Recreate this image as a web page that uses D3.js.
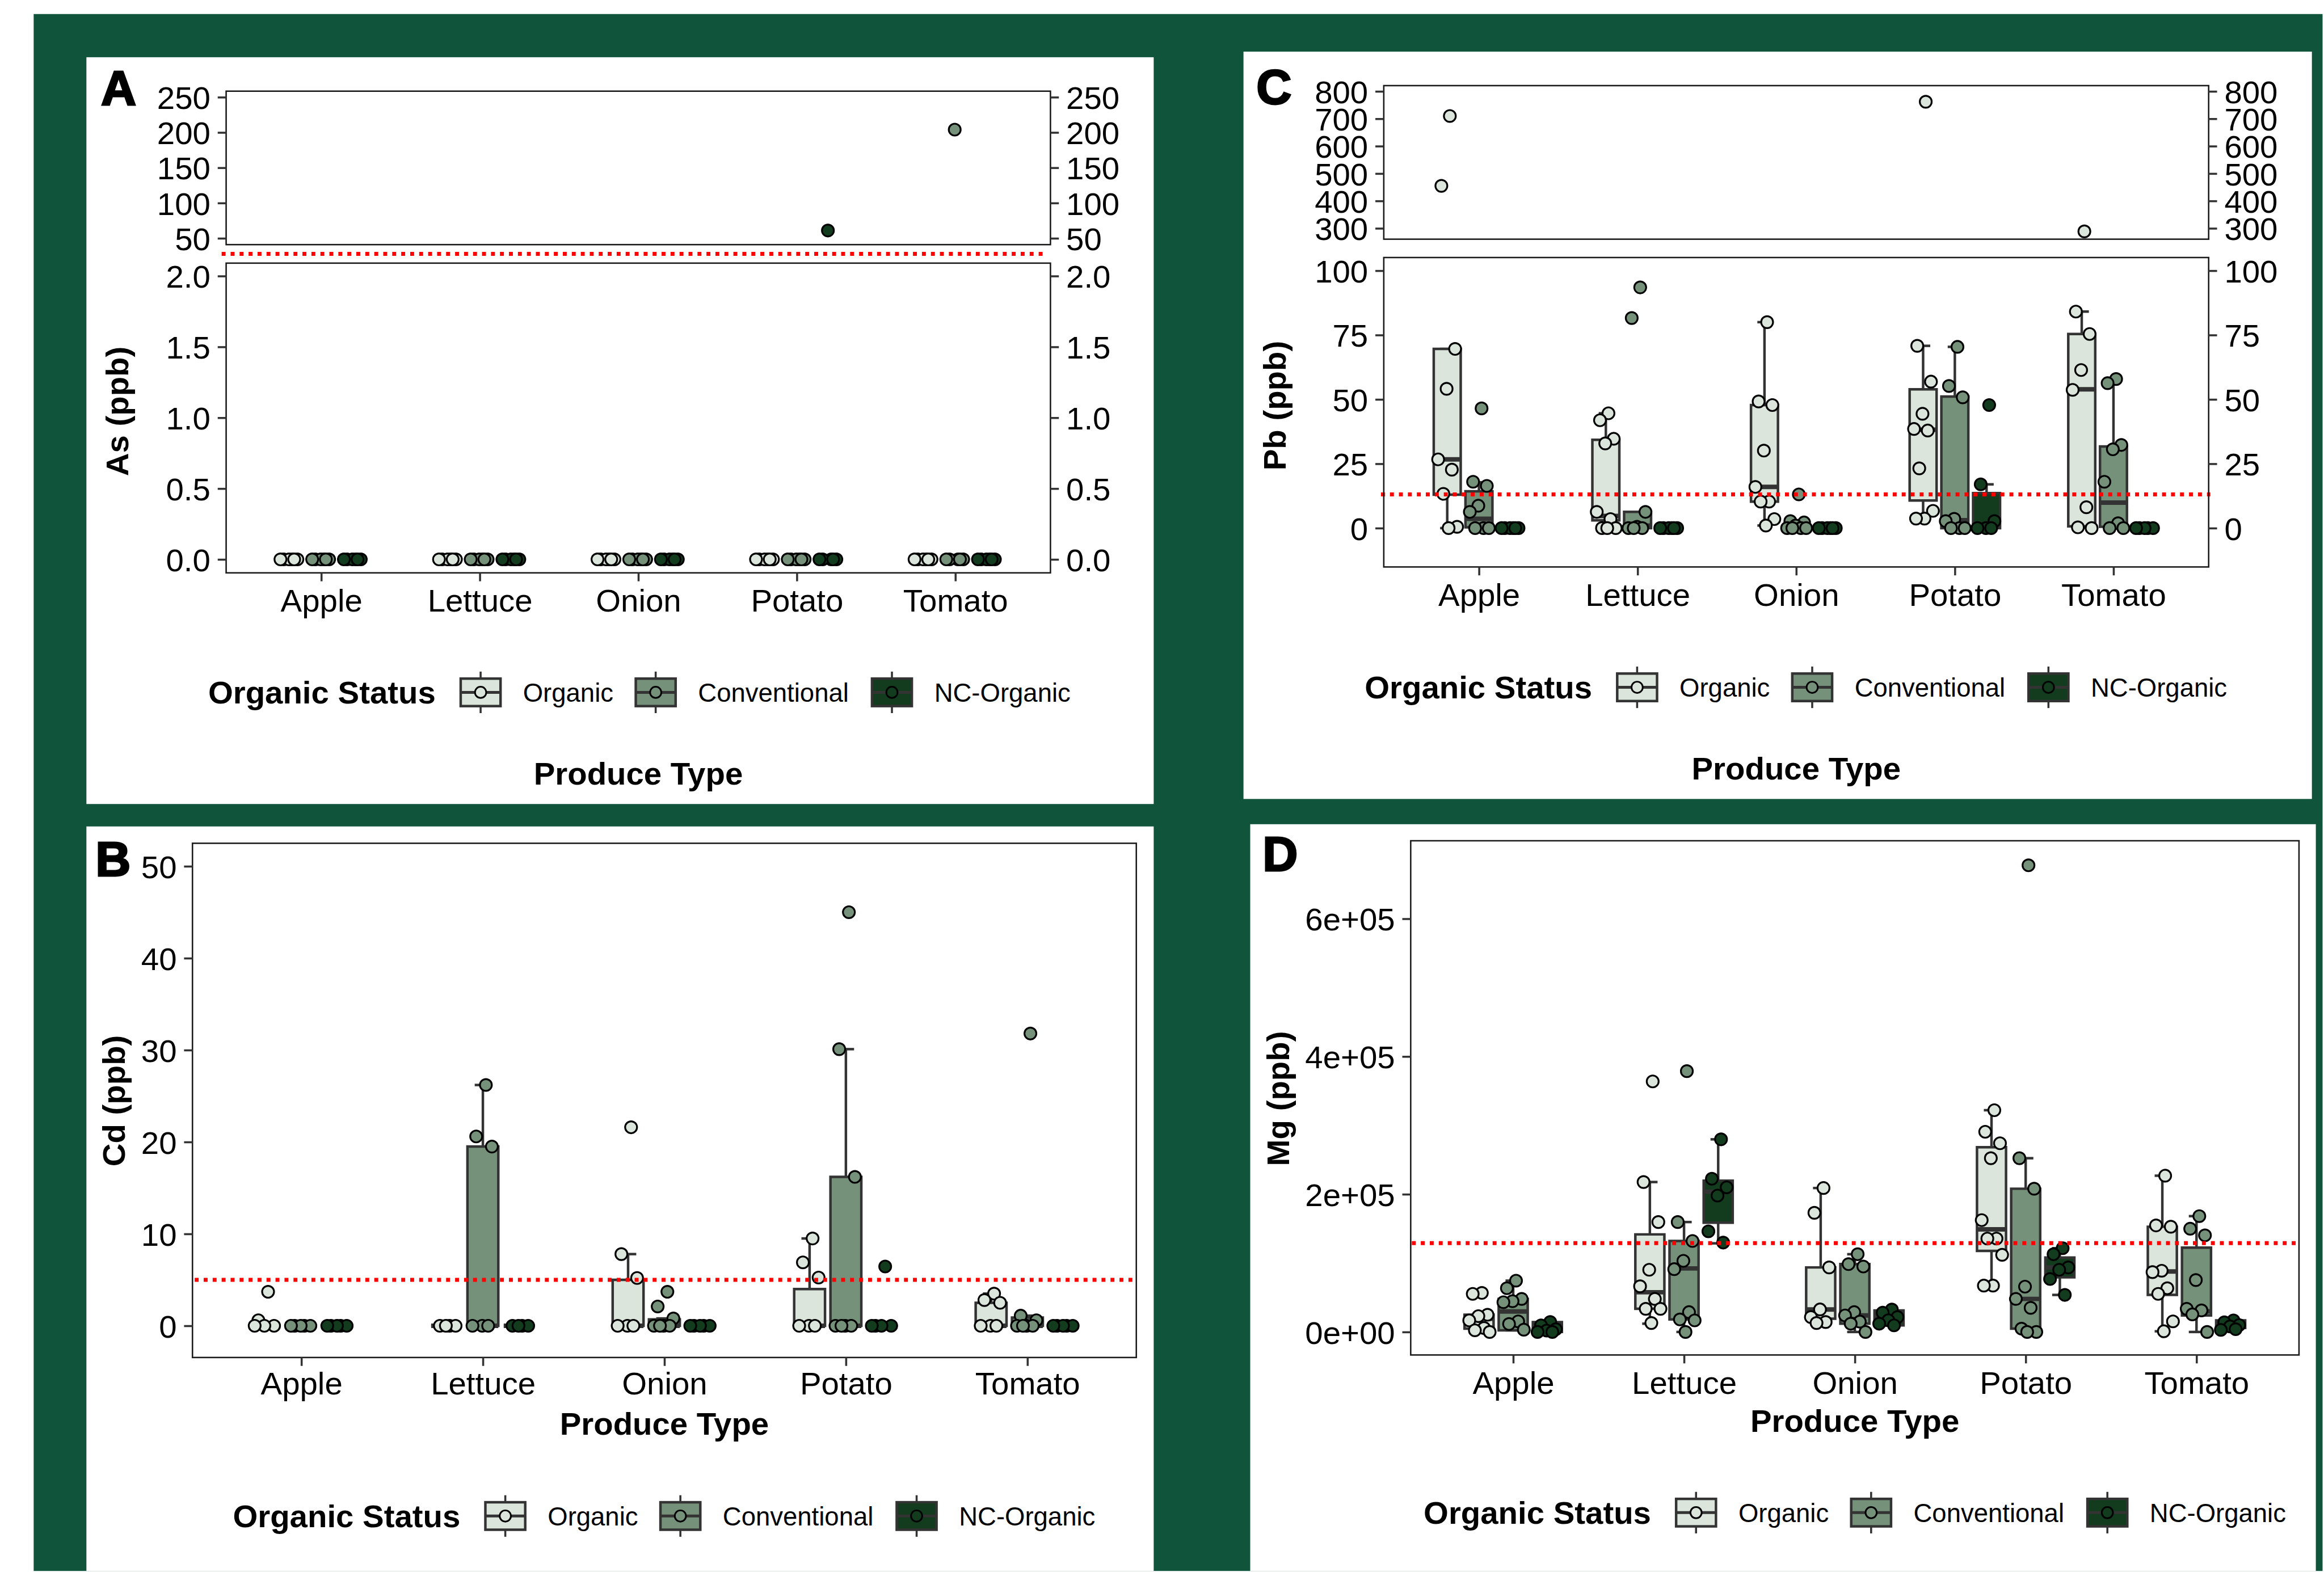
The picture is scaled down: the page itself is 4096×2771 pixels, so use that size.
<!DOCTYPE html>
<html><head><meta charset="utf-8">
<script src="https://cdn.jsdelivr.net/npm/d3@7"></script>
<style>html,body{margin:0;padding:0;background:#fff}svg{display:block}</style>
</head><body>
<script>
// ---------------- DATA ----------------
const categories = ["Apple", "Lettuce", "Onion", "Potato", "Tomato"];
const groups = ["Organic", "Conventional", "NC-Organic"];
const groupColors = ["#DBE5DB", "#76917A", "#133B1D"];

// Panel A: As (ppb) — box stats [lo, q1, median, q3, hi], rows = category x group
const asStats = [
  [0,0,0,0,0],[0,0,0,0,0],[0,0,0,0,0],
  [0,0,0,0,0],[0,0,0,0,0],[0,0,0,0,0],
  [0,0,0,0,0],[0,0,0,0,0],[0,0,0,0,0],
  [0,0,0,0,0],[0,0,0,0,0],[0,0,0,0,0],
  [0,0,0,0,0],[0,0,0,0,0],[0,0,0,0,0]
];
const asPoints = [
  [0,0,0,0,0,0],[0,0,0,0,0,0],[0,0,0,0,0,0],
  [0,0,0,0,0,0],[0,0,0,0,0,0],[0,0,0,0,0,0],
  [0,0,0,0,0,0],[0,0,0,0,0,0],[0,0,0,0,0,0],
  [0,0,0,0,0,0],[0,0,0,0,0,0],[0,0,0,61,0,0],
  [0,0,0,0,0,0],[0,0,0,204,0,0],[0,0,0,0,0,0]
];
const asTicksUpper = [50, 100, 150, 200, 250];
const asTickLabelsUpper = ["50", "100", "150", "200", "250"];
const asTicksLower = [0, 0.5, 1, 1.5, 2];
const asTickLabelsLower = ["0.0", "0.5", "1.0", "1.5", "2.0"];

// Panel B: Cd (ppb)
const cdStats = [
  [0,0,0,0,0],[0,0,0,0,0],[0,0,0,0,0],
  [0,0,0,0,0],[0,0,0,19.5,26.2],[0,0,0,0,0],
  [0,0,0,5.0,7.8],[0,0,0,0.7,0.8],[0,0,0,0,0],
  [0,0,0,4.0,9.5],[0,0,0,16.2,30.1],[0,0,0,0,0],
  [0,0,0,2.5,3.5],[0,0,0,0.9,1.1],[0,0,0,0,0]
];
const cdPoints = [
  [3.7,0.6,0,0,0],[0,0,0,0,0],[0,0,0,0,0],
  [0,0,0,0],[26.2,20.6,19.5,0,0,0],[0,0,0,0],
  [21.6,7.8,5.2,0,0,0],[3.7,2.1,0.8,0,0,0,0],[0,0,0,0,0],
  [9.5,6.9,5.25,0,0,0],[45.0,30.1,16.2,0,0,0,0],[6.45,0,0,0,0],
  [3.5,2.8,2.5,0,0,0],[31.8,1.1,0.6,0,0,0,0],[0,0,0,0,0]
];
const cdTicks = [0, 10, 20, 30, 40, 50];
const cdTickLabels = ["0", "10", "20", "30", "40", "50"];

// Panel C: Pb (ppb)
const pbStats = [
  [0,13,26.7,69.6,69.6],[0,0.3,3.6,14.3,17.8],[0,0,0,0,0],
  [0,3,4.7,34.3,44.6],[0,0,1,6.3,6.3],[0,0,0,0,0],
  [1.0,10.3,16,47.8,80],[0,0,0.3,1,2.5],[0,0,0,0,0],
  [3.9,10.7,38.2,53.9,70.8],[0,0,3.1,51.1,70.4],[0,0,0.5,13.6,17.0],
  [0.2,0.7,53.9,75.4,84.1],[0,0.5,9.9,31.7,57.9],[0,0,0,0,0]
];
const pbPoints = [
  [710,455,69.6,54.1,26.7,22.7,13.3,0.5,0],[46.5,18,16.4,8.7,6.3,0,0,0],[0,0,0,0,0,0],
  [44.6,41.9,34.7,32.9,6.3,3.5,0,0,0],[93.5,81.6,6.3,0.5,0,0,0],[0,0,0,0,0,0],
  [80,49.2,47.8,30.1,16,10.3,10.3,3.5,1.0],[13.1,2.7,2.2,1.0,0,0,0,0],[0,0,0,0,0,0],
  [762,70.8,56.9,44.4,38.5,37.9,23.2,6.7,3.7,3.7],[70.4,55.2,50.8,3.6,2.7,0,0,0],[47.8,17.0,2.7,0,0,0],
  [288.7,84.1,75.4,61.4,53.7,8.1,0.3,0],[57.9,56.3,32.3,30.6,18.0,1.9,0,0],[0,0,0,0,0]
];
const pbTicksUpper = [300, 400, 500, 600, 700, 800];
const pbTickLabelsUpper = ["300", "400", "500", "600", "700", "800"];
const pbTicksLower = [0, 25, 50, 75, 100];
const pbTickLabelsLower = ["0", "25", "50", "75", "100"];

// Panel D: Mg (ppb)
const mgStats = [
  [0,4800,19200,25000,25000],[2400,2400,29800,48000,74500],[0,0,7300,14400,14400],
  [12000,33600,57700,141700,217700],[0,18200,92300,132100,159600],[128700,158600,203700,219600,279700],
  [13000,19200,32700,93700,209000],[0,12000,24000,98500,112900],[9600,9600,21600,31300,32600],
  [67300,117700,149000,268200,322000],[0,4800,48000,208000,252300],[53800,79300,93700,108100,121600],
  [1000,53800,87900,152800,226900],[0,24000,30000,122500,168200],[3000,5800,9600,16800,16800]
];
const mgPoints = [
  [56700,55300,25000,23000,16800,5800,2400,0],[74500,63500,48000,44700,43200,15400,11600,3300],[14400,9600,4000,2000,0,0],
  [363800,217700,159600,90300,66300,48000,33600,33600,13000],[378700,159600,132100,103300,91200,28800,18200,16800,0],[279700,222500,210000,198000,146100,129800],
  [209000,173000,93700,32700,21600,14400,13000],[112900,98500,95000,28800,24000,15000,12000,0],[32600,28000,21600,17000,12000,9600],
  [322000,290700,274000,252300,162400,135600,135600,112000,67300,67300],[677600,252300,208000,65800,48000,35000,4800,0,0],[121600,112900,93700,90300,76900,53800],
  [226900,154700,152800,88900,86900,63500,55300,15400,1000],[168200,149900,140300,75400,33600,31300,25500,0],[16800,14000,10000,8000,3000,4000]
];
const mgTicks = [0, 200000, 400000, 600000];
const mgTickLabels = ["0e+00", "2e+05", "4e+05", "6e+05"];

// Reference thresholds (red dotted lines)
const cdLimit = 5;
const pbLimit = 13.1;
const mgLimit = 129000;

// ---------------- LAYOUT / STYLE ----------------
const W = 4139, H = 2800, S = 0.989;
const GREEN = "#11543C";
const FONT = "'Liberation Sans', Arial, Helvetica, sans-serif";
const LINE = "#333333";

const svg = d3.select("body").append("svg").attr("width", 4096).attr("height", 2771);
const root = svg.append("g").attr("transform", `scale(${S})`);
root.append("rect").attr("width", W).attr("height", H).attr("fill", "#fff");
root.append("rect").attr("x", 60).attr("y", 25).attr("width", W - 60).attr("height", H - 25).attr("fill", GREEN);

const jit = i => ((((i + 1) * 0.6180339887) % 1) - 0.5) * 2;

function styleAxis(ax) {
  ax.select(".domain").remove();
  ax.attr("font-family", FONT).attr("font-size", 57);
  ax.selectAll(".tick line").attr("stroke", LINE).attr("stroke-width", 3.6);
  ax.selectAll(".tick text").attr("fill", "#000");
}

function drawLegend(g, lx, cy) {
  g.append("text").attr("x", lx).attr("y", cy + 20).text("Organic Status")
    .attr("font-family", FONT).attr("font-weight", "bold").attr("font-size", 57).attr("fill", "#000");
  const keyX = [450, 762, 1183];
  groups.forEach((grp, i) => {
    const kx = lx + keyX[i], kw = 71, kh = 49, mx = kx + kw / 2;
    g.append("line").attr("x1", mx).attr("x2", mx).attr("y1", cy - 37).attr("y2", cy + 37)
      .attr("stroke", LINE).attr("stroke-width", 3.6);
    g.append("rect").attr("x", kx).attr("y", cy - kh / 2).attr("width", kw).attr("height", kh)
      .attr("fill", groupColors[i]).attr("stroke", LINE).attr("stroke-width", 4.5);
    g.append("line").attr("x1", kx).attr("x2", kx + kw).attr("y1", cy).attr("y2", cy)
      .attr("stroke", LINE).attr("stroke-width", 5);
    g.append("circle").attr("cx", mx).attr("cy", cy).attr("r", 10)
      .attr("fill", groupColors[i]).attr("stroke", "#000").attr("stroke-width", 3);
    g.append("text").attr("x", kx + 111).attr("y", cy).attr("dy", "0.36em").text(grp)
      .attr("font-family", FONT).attr("font-size", 46).attr("fill", "#000");
  });
}

function drawPanel(c) {
  const g = root.append("g");
  g.append("rect").attr("x", c.rect[0]).attr("y", c.rect[1])
    .attr("width", c.rect[2] - c.rect[0]).attr("height", c.rect[3] - c.rect[1]).attr("fill", "#fff");

  const x = d3.scalePoint().domain(categories).range(c.xr).padding(0.6);
  const step = x.step();
  const dodge = d3.scalePoint().domain(groups).range([-0.2, 0.2]);
  const bw = 0.17 * step, cw = 0.09 * step, jw = 0.07 * step;
  const subs = c.subs.map(s => Object.assign({}, s, {
    y: d3.scaleLinear().domain(s.domain).range([s.yr[1], s.yr[0]])
  }));
  const main = subs[subs.length - 1];
  const cxOf = r => x(categories[Math.floor(r / 3)]) + dodge(groups[r % 3]) * step;

  // boxes (main sub plot)
  const bg = g.append("g");
  c.stats.forEach((st, r) => {
    const [lo, q1, med, q3, hi] = st, y = main.y, cx = cxOf(r);
    const gi = r % 3;
    bg.append("line").attr("x1", cx).attr("x2", cx).attr("y1", y(lo)).attr("y2", y(hi))
      .attr("stroke", LINE).attr("stroke-width", 4.5);
    [lo, hi].forEach(v => bg.append("line").attr("x1", cx - cw / 2).attr("x2", cx + cw / 2)
      .attr("y1", y(v)).attr("y2", y(v)).attr("stroke", LINE).attr("stroke-width", 4.5));
    const p = d3.path();
    p.moveTo(cx - bw / 2, y(q3)); p.lineTo(cx + bw / 2, y(q3));
    p.lineTo(cx + bw / 2, y(q1)); p.lineTo(cx - bw / 2, y(q1)); p.closePath();
    bg.append("path").attr("d", p.toString()).attr("fill", groupColors[gi])
      .attr("stroke", LINE).attr("stroke-width", 4.5);
    bg.append("line").attr("x1", cx - bw / 2).attr("x2", cx + bw / 2).attr("y1", y(med)).attr("y2", y(med))
      .attr("stroke", LINE).attr("stroke-width", 8);
  });

  // points
  const pg = g.append("g");
  c.points.forEach((vals, r) => {
    const cx = cxOf(r), gi = r % 3;
    vals.forEach((v, i) => {
      const sub = subs.find(s => v >= s.domain[0] && v <= s.domain[1]);
      if (!sub) return;
      pg.append("circle").attr("cx", cx + jit(i) * jw).attr("cy", sub.y(v)).attr("r", 10.6)
        .attr("fill", groupColors[gi]).attr("stroke", "#000").attr("stroke-width", 3.2);
    });
  });

  // threshold line
  const ry = c.redValue !== undefined ? main.y(c.redValue) : (subs[0].yr[1] + subs[1].yr[0]) / 2;
  g.append("line").attr("x1", c.xr[0] + c.redDx[0]).attr("x2", c.xr[1] + c.redDx[1])
    .attr("y1", ry).attr("y2", ry).attr("stroke", "#FF0000").attr("stroke-width", 7)
    .attr("stroke-dasharray", "7 9");

  // frames & axes
  subs.forEach(s => {
    g.append("rect").attr("x", c.xr[0]).attr("y", s.yr[0]).attr("width", c.xr[1] - c.xr[0])
      .attr("height", s.yr[1] - s.yr[0]).attr("fill", "none").attr("stroke", "#1a1a1a").attr("stroke-width", 2.6);
    const al = g.append("g").attr("transform", `translate(${c.xr[0]},0)`)
      .call(d3.axisLeft(s.y).tickValues(s.ticks).tickFormat((d, i) => s.labels[i]).tickSize(15).tickPadding(13));
    styleAxis(al); al.selectAll(".tick text").attr("dy", "0.36em");
    if (c.right) {
      const ar = g.append("g").attr("transform", `translate(${c.xr[1]},0)`)
        .call(d3.axisRight(s.y).tickValues(s.ticks).tickFormat((d, i) => s.labels[i]).tickSize(15).tickPadding(13));
      styleAxis(ar); ar.selectAll(".tick text").attr("dy", "0.36em");
    }
  });
  const ab = g.append("g").attr("transform", `translate(0,${main.yr[1]})`)
    .call(d3.axisBottom(x).tickSize(15).tickPadding(c.xPad));
  styleAxis(ab);

  // texts
  g.append("text").attr("x", c.letter[0]).attr("y", c.letter[1]).text(c.letterText)
    .attr("font-family", FONT).attr("font-weight", "bold").attr("font-size", 87)
    .attr("fill", "#000").attr("stroke", "#000").attr("stroke-width", 3);
  g.append("text").attr("transform", `translate(${c.yTitle[0]},${c.yTitle[1]}) rotate(-90)`)
    .attr("text-anchor", "middle").text(c.yTitleText)
    .attr("font-family", FONT).attr("font-weight", "bold").attr("font-size", 57).attr("fill", "#000");
  g.append("text").attr("x", (c.xr[0] + c.xr[1]) / 2).attr("y", c.ptitleY).attr("text-anchor", "middle")
    .text("Produce Type").attr("font-family", FONT).attr("font-weight", "bold").attr("font-size", 57).attr("fill", "#000");
  drawLegend(g, c.legend[0], c.legend[1]);
}

// Panel A
drawPanel({
  rect: [154, 102, 2056, 1433], xr: [403, 1872],
  subs: [
    { yr: [162.5, 436], domain: [41, 258.5], ticks: asTicksUpper, labels: asTickLabelsUpper },
    { yr: [469, 1021], domain: [-0.095, 2.091], ticks: asTicksLower, labels: asTickLabelsLower }
  ],
  stats: asStats, points: asPoints, redDx: [-8, -13], right: true, xPad: 13.5,
  letter: [180, 187], letterText: "A", yTitle: [229, 733], yTitleText: "As (ppb)",
  ptitleY: 1398, legend: [371, 1234]
});
// Panel C
drawPanel({
  rect: [2216, 92, 4120, 1424], xr: [2466, 3936],
  subs: [
    { yr: [152.6, 426.3], domain: [260.3, 820.9], ticks: pbTicksUpper, labels: pbTickLabelsUpper },
    { yr: [459, 1010.5], domain: [-15.09, 105.1], ticks: pbTicksLower, labels: pbTickLabelsLower }
  ],
  stats: pbStats, points: pbPoints, redValue: pbLimit, redDx: [-5, 3], right: true, xPad: 13.5,
  letter: [2239, 185], letterText: "C", yTitle: [2291, 723], yTitleText: "Pb (ppb)",
  ptitleY: 1389, legend: [2432, 1225]
});
// Panel B
drawPanel({
  rect: [154, 1473, 2056, 2800], xr: [343, 2025],
  subs: [
    { yr: [1503, 2419.5], domain: [-3.45, 52.5], ticks: cdTicks, labels: cdTickLabels }
  ],
  stats: cdStats, points: cdPoints, redValue: cdLimit, redDx: [4, -2], right: false, xPad: 10.5,
  letter: [170, 1561], letterText: "B", yTitle: [222, 1962], yTitleText: "Cd (ppb)",
  ptitleY: 2557, legend: [415, 2702]
});
// Panel D
drawPanel({
  rect: [2228, 1469, 4127, 2800], xr: [2514, 4097],
  subs: [
    { yr: [1498.5, 2415], domain: [-33400, 713240], ticks: mgTicks, labels: mgTickLabels }
  ],
  stats: mgStats, points: mgPoints, redValue: mgLimit, redDx: [2, -6], right: false, xPad: 13.5,
  letter: [2250, 1552], letterText: "D", yTitle: [2297, 1958], yTitleText: "Mg (ppb)",
  ptitleY: 2552.5, legend: [2537, 2696]
});
</script>
</body></html>
